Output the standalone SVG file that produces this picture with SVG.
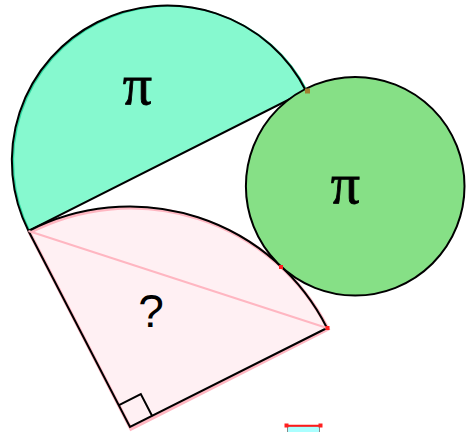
<svg xmlns="http://www.w3.org/2000/svg" width="469" height="432" viewBox="0 0 469 432">
<style>
.lbl{font-family:"Liberation Serif","Times New Roman",serif;font-size:58px;fill:#000;stroke:#000;stroke-width:0.8;text-anchor:middle}
.q{font-family:"Liberation Sans",Arial,sans-serif;font-size:46px;fill:#000;text-anchor:middle}
.edge{fill:none;stroke:#000;stroke-width:2}
.pk{stroke:#ffb6c1;fill:none}
.mk{fill:#ff2020;stroke:none}
</style>
<rect width="469" height="432" fill="#fff"/>
<g id="semicircle">
  <path d="M306 91 A155.4 155.4 0 0 0 28.5 231 Z" fill="#86f9cf" stroke="none"/>
  <path d="M307.5 91.5 A155.4 155.4 0 0 0 30 231.5" fill="none" stroke="#2fd8a0" stroke-width="1.5"/>
  <path d="M306 91 A155.4 155.4 0 0 0 28.5 231 Z" class="edge"/>
  <text x="137.5" y="104" class="lbl">π</text>
</g>
<g id="sector">
  <path d="M131 429 L29.5 232.5 A221 221 0 0 1 328 329 Z" fill="#fff0f3" stroke="#ffb6c1" stroke-width="3.5"/>
  <path d="M28.5 231 A221 221 0 0 1 327 328" class="edge"/>
  <polyline points="28.5,231 130,427 327,328" class="edge" stroke-width="1.8"/>
  <line x1="28.5" y1="231" x2="327" y2="328" class="pk" stroke-width="2"/>
  <polyline points="118.5,405.3 140.8,394 152.3,416.2" class="edge" stroke-width="1.8"/>
  <text x="151" y="327" class="q">?</text>
</g>
<g id="circle">
  <circle cx="355.2" cy="186.2" r="109.3" fill="#86e086" stroke="#000" stroke-width="2"/>
  <text x="345.5" y="203" class="lbl">π</text>
</g>
<g id="markers">
  <rect x="305" y="88.5" width="5" height="5" fill="#a08030"/>
  <rect x="279" y="265" width="4" height="4" class="mk"/>
  <rect x="325.5" y="326" width="4" height="4" class="mk"/>
</g>
<g id="bottom">
  <rect x="287.5" y="426" width="32" height="10" fill="#aaffff" stroke="#888" stroke-width="1"/>
  <line x1="286" y1="425.8" x2="321.5" y2="425.8" stroke="#ff1a1a" stroke-width="2"/>
  <rect x="284.5" y="423.5" width="4" height="4" class="mk"/>
  <rect x="318.5" y="423.5" width="4" height="4" class="mk"/>
</g>
</svg>
